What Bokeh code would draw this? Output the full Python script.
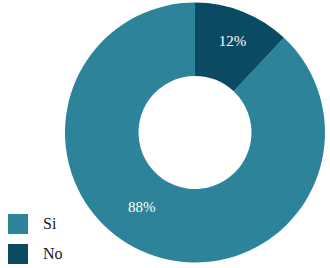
import numpy as np
from bokeh.plotting import figure
from bokeh.models import Range1d, Legend, LegendItem, ColumnDataSource
from bokeh.core.properties import value
from bokeh.embed import file_html
from bokeh.resources import INLINE

# ---- data ----
labels = ["Si", "No"]
values = [88, 12]
colors = ["#2d8399", "#0a4a63"]

# ---- layout / style ----
W, H = 330, 268
cx, cy = 194.5, 136.0
r_out, r_in = 130.0, 56.5
label_r = [92.0, 99.0]
label_nudge_deg = [-13.8, -0.6]
FONT = "Liberation Serif"

vals = np.array(values, dtype=float)
frac = vals / vals.sum()
start = []
end = []
a = np.pi / 2
for f in frac:
    start.append(a)
    a = a + f * 2 * np.pi
    end.append(a)
mid = [(s + e) / 2 + np.deg2rad(n) for s, e, n in zip(start, end, label_nudge_deg)]
lx = [cx + r * np.cos(m) for r, m in zip(label_r, mid)]
ly = [cy + r * np.sin(m) for r, m in zip(label_r, mid)]
txt = [f"{v:g}%" for v in values]

src = ColumnDataSource(dict(label=labels, start=start, end=end, color=colors,
                            lx=lx, ly=ly, txt=txt))

p = figure(width=W, height=H, output_backend="svg", toolbar_location=None,
           x_range=Range1d(0, W), y_range=Range1d(268 - H, 268),
           min_border=0, outline_line_color=None)
p.axis.visible = False
p.grid.visible = False
p.background_fill_color = "white"
p.border_fill_color = "white"

r = p.annular_wedge(x=cx, y=cy, inner_radius=r_in, outer_radius=r_out,
                    start_angle="start", end_angle="end", fill_color="color",
                    line_color=None, source=src)

p.text(x="lx", y="ly", text="txt", source=src, text_color="white",
       text_font=value(FONT), text_font_size="15px", text_align="center",
       text_baseline="middle")

legend = Legend(items=[LegendItem(label=labels[i], renderers=[r], index=i) for i in range(len(labels))],
                location=(5, 2), orientation="vertical",
                glyph_width=25, glyph_height=25, label_height=25,
                spacing=5, label_standoff=13, padding=0, margin=0,
                border_line_color=None, background_fill_alpha=0,
                label_text_font=FONT, label_text_font_size="16px",
                label_text_color="#1a1a1a")
p.add_layout(legend, "center")

open("out.html", "w").write(file_html(p, INLINE))
